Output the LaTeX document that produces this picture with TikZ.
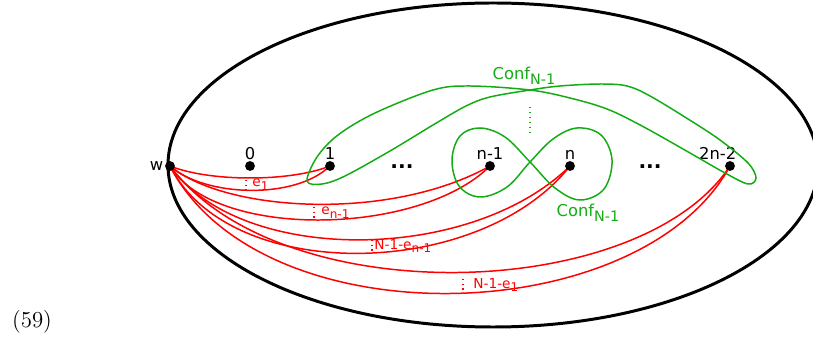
\documentclass[tikz,border=0pt]{standalone}
\usepackage{fontspec}
\newfontfamily\dejavu{DejaVu Sans}
\usetikzlibrary{backgrounds}
\definecolor{confgreen}{RGB}{20,172,20}
\newcommand\lowsub[1]{\raisebox{-0.5ex}{\scalebox{0.88}{#1}}}
\tikzset{
	pt/.style={circle, fill=black, inner sep=0pt, minimum size=5.6pt},
	ptlabel/.style={font=\dejavu\fontsize{9.3}{11}\selectfont, inner sep=0.6pt},
	redline/.style={red, line width=0.85pt},
	conf/.style={confgreen, line width=0.85pt},
	redlab/.style={red, font=\dejavu\fontsize{7.8}{9}\selectfont, inner sep=0pt, anchor=west},
	conflab/.style={confgreen, font=\dejavu\fontsize{9.3}{11}\selectfont, inner sep=0pt}
}
\begin{document}
\begin{tikzpicture}[x=0.02cm, y=-0.02cm]
	\useasboundingbox (0,0) rectangle (813,340);

	\draw[line width=1.7pt] (493,165) ellipse (325 and 162);

	\node[pt, label={[ptlabel]left:w}] (w) at (170,166) {};
	\foreach \n/\x/\t in {p0/250/0, p1/330/1, pa/490/n-1, pb/570/n}
	    {
		  \node[pt, label={[ptlabel]above:\t}] (\n) at (\x,166) {};
	    }
	\node[pt, label={[ptlabel, xshift=-7pt]above:2n-2}] (pc) at (730,166) {};
	\node[anchor=base, font=\dejavu\bfseries\fontsize{11.5}{13}\selectfont] (dotsa) at (402,169) {...};
	\node[anchor=base, font=\dejavu\bfseries\fontsize{11.5}{13}\selectfont] (dotsb) at (650,169) {...};

	\begin{scope}[on background layer]
	  \draw[redline] (w.center) .. controls (210,182) and (290,182) .. (p1.center);
	  \draw[redline] (w.center) .. controls (205,197) and (295,200) .. (p1.center);
	  \draw[redline] (w.center) .. controls (225,212) and (390,222) .. (pa.center);
	  \draw[redline] (w.center) .. controls (215,240) and (420,236) .. (pa.center);
	  \draw[redline] (w.center) .. controls (240,265) and (470,264) .. (pb.center);
	  \draw[redline] (w.center) .. controls (230,285) and (480,280) .. (pb.center);
	  \draw[redline] (w.center) .. controls (280,313) and (640,303) .. (pc.center);
	  \draw[redline] (w.center) .. controls (260,341) and (640,331) .. (pc.center);
	\end{scope}

	% edge labels
	\draw[red, dotted, line width=0.7pt] (246,180) -- (246,191);
	\node[redlab] (le1) at (252,185) {e\lowsub{1}};
	\draw[red, dotted, line width=0.7pt] (314,207) -- (314,219);
	\node[redlab] (le2) at (321,213) {e\lowsub{n-1}};
	\draw[red, dotted, line width=0.7pt] (372,240) -- (372,252);
	\node[redlab] (le3) at (374,246) {N-1-e\lowsub{n-1}};
	\draw[red, dotted, line width=0.7pt] (463,279) -- (463,291);
	\node[redlab] (le4) at (473,285) {N-1-e\lowsub{1}};

	% configuration loops
	\draw[conf] plot[smooth cycle, tension=0.55] coordinates {
		(307,181) (317,157) (338,135) (375,113) (433,90) (470,86) (530,90)
		(570,98) (607,109) (642,126) (690,153) (725,173) (748,184)
		(756,178) (748,163) (720,140) (688,119) (650,96) (627,86) (600,84)
		(560,86) (530,90) (490,97) (466,106) (433,125) (390,151) (345,176) (322,184)};
	\draw[conf] plot[smooth cycle, tension=0.6] coordinates {
		(530,162) (555,188) (580,200) (604,189) (612,160) (601,135) (577,128)
		(553,139) (530,162) (507,187) (480,197) (459,186) (452,160) (460,136)
		(480,128) (505,137)};
	\draw[confgreen, dotted, line width=0.8pt] (530,107) -- (530,134);
	\node[conflab] (conf1) at (524,76) {Conf\lowsub{N-1}};
	\node[conflab] (conf2) at (588,213) {Conf\lowsub{N-1}};

	\node[font=\fontsize{13}{15}\selectfont] (eqno) at (32,322) {(59)};
\end{tikzpicture}
\end{document}
